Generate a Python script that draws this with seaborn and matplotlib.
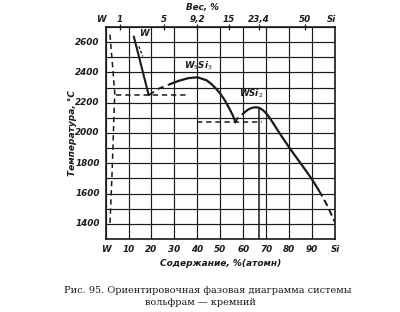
import numpy as np
import pandas as pd
import matplotlib
matplotlib.use("Agg")
import matplotlib.pyplot as plt
import seaborn as sns

# ---- data ----
solvus_x = [1.9, 3.0, 4.0, 3.6, 3.2, 2.6, 1.9]
solvus_T = [2650, 2450, 2260, 2100, 1900, 1650, 1400]

liq_w_x = [12.3, 18.8]
liq_w_T = [2637, 2250]
liq_w_hint_x = [14.5, 16.2]
liq_w_hint_T = [2572, 2506]

w5si3_dash_x = [18.8, 23, 28]
w5si3_dash_T = [2250, 2292, 2322]
w5si3_x = [28, 32, 36, 40, 44, 46, 48, 50, 52, 54, 55.5, 56.6]
w5si3_T = [2322, 2345, 2362, 2368, 2348, 2325, 2295, 2260, 2215, 2160, 2115, 2070]

link_x = [56.6, 57.6]
link_T = [2070, 2100]

wsi2_x = [59.7, 61, 62.5, 64, 65.5, 67, 68.5, 70, 71.5, 73, 74.5, 76, 78, 80,
          82.5, 85, 87.5, 90, 93]
wsi2_T = [2124, 2142, 2158, 2167, 2170, 2166, 2152, 2130, 2100, 2066, 2030, 1995,
          1950, 1905, 1852, 1800, 1747, 1693, 1620]
wsi2_dash_x = [93, 96.5, 100]
wsi2_dash_T = [1620, 1525, 1410]

eut1_x = [4.5, 35]
eut1_T = [2250, 2250]
eut2_x = [40, 68]
eut2_T = [2070, 2070]

wsi2_line_x = [66.7, 66.7]
wsi2_line_T = [2168, 1300]

x_ticks = [0, 10, 20, 30, 40, 50, 60, 70, 80, 90, 100]
x_labels = ["W", "10", "20", "30", "40", "50", "60", "70", "80", "90", "Si"]
y_ticks = [1400, 1600, 1800, 2000, 2200, 2400, 2600]
wt_values = [1, 5, 9.2, 15, 23.4, 50]
wt_labels = ["1", "5", "9,2", "15", "23,4", "50"]

# ---- figure ----
sns.set_style("white")
plt.rcParams["font.family"] = ["DejaVu Sans"]
fig = plt.figure(figsize=(4.0, 3.12), dpi=100)
ax = fig.add_axes([0.264, 0.234, 0.5735, 0.6795])

ink = "#1a1a1a"
tick_font = dict(fontsize=6.3, fontstyle="italic", fontweight="bold", color=ink)

def draw(x, y, ls="-", lw=1.5):
    sns.lineplot(x=x, y=y, ax=ax, sort=False, estimator=None, color=ink,
                 linestyle=ls, linewidth=lw)

draw(solvus_x, solvus_T, ls=(0, (3.5, 2.5)), lw=1.1)
draw(liq_w_x, liq_w_T, lw=1.5)
draw(liq_w_hint_x, liq_w_hint_T, ls=(0, (2, 1.5)), lw=1.0)
draw(w5si3_dash_x, w5si3_dash_T, ls=(0, (3.5, 2.5)), lw=1.3)
draw(w5si3_x, w5si3_T, lw=1.6)
draw(link_x, link_T, lw=1.2)
draw(wsi2_x, wsi2_T, lw=1.6)
draw(wsi2_dash_x, wsi2_dash_T, ls=(0, (3.5, 2)), lw=1.4)
draw(eut1_x, eut1_T, ls=(0, (3.5, 2.5)), lw=1.1)
draw(eut2_x, eut2_T, ls=(0, (3.5, 2.5)), lw=1.1)
draw(wsi2_line_x, wsi2_line_T, lw=1.1)

ax.set_xlim(0, 100)
ax.set_ylim(1300, 2700)
ax.set_xticks(np.arange(0, 101, 10))
ax.set_yticks(np.arange(1300, 2701, 100), minor=False)
ax.grid(True, color=ink, linewidth=0.85)
ax.set_xticklabels([])
ax.set_yticklabels([])
ax.tick_params(length=0)
for s in ax.spines.values():
    s.set_color(ink)
    s.set_linewidth(1.2)

for xv, lab in zip(x_ticks, x_labels):
    ax.text(xv, -0.03, lab, transform=ax.get_xaxis_transform(), ha="center",
            va="top", **tick_font)
for yv in y_ticks:
    ax.text(-0.025, yv, str(yv), transform=ax.get_yaxis_transform(), ha="right",
            va="center", **tick_font)

ax.set_xlabel("Содержание, %(атомн)", fontsize=6.5, fontstyle="italic",
              fontweight="bold", color=ink, labelpad=11)
ax.set_ylabel("Температура, °С", fontsize=6.5, fontstyle="italic",
              fontweight="bold", color=ink, labelpad=17)

# top axis: weight percent
def wt_to_at(w):
    a = w / 28.09
    b = (100 - w) / 183.84
    return 100 * a / (a + b)

top = ax.twiny()
top.set_xlim(0, 100)
top.set_xticks([wt_to_at(w) for w in wt_values])
top.set_xticklabels(wt_labels, **tick_font)
top.tick_params(axis="x", direction="inout", length=4, width=0.9, pad=0, colors=ink)
top.grid(False)
for s in top.spines.values():
    s.set_visible(False)
ax.text(-0.02, 1.015, "W", transform=ax.transAxes, ha="center", va="bottom", **tick_font)
ax.text(0.985, 1.015, "Si", transform=ax.transAxes, ha="center", va="bottom", **tick_font)
ax.text(0.42, 1.07, "Вес, %", transform=ax.transAxes, ha="center", va="bottom", **tick_font)

# phase labels
ax.text(16.8, 2630, "W", ha="center", va="bottom", **tick_font)
ax.text(40.5, 2400, "W$_5$Si$_3$", ha="center", va="bottom", **tick_font)
ax.text(63.5, 2215, "WSi$_2$", ha="center", va="bottom", **tick_font)

# caption
fig.text(0.52, 0.068, "Рис. 95. Ориентировочная фазовая диаграмма системы",
         ha="center", va="center", fontsize=7, family="DejaVu Serif", color=ink)
fig.text(0.50, 0.032, "вольфрам — кремний",
         ha="center", va="center", fontsize=7, family="DejaVu Serif", color=ink)

fig.savefig("out.png", dpi=100)
